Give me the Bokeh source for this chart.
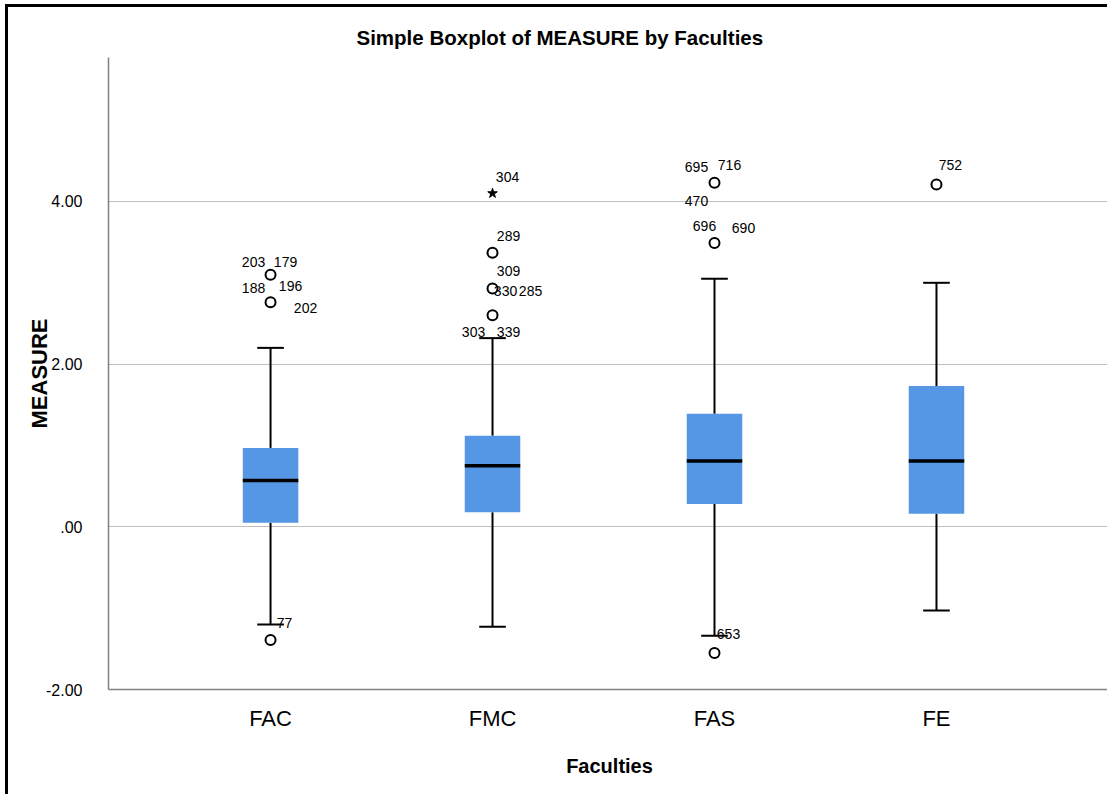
from bokeh.plotting import figure
from bokeh.models import FixedTicker, ColumnDataSource
from bokeh.core.properties import value
from bokeh.embed import file_html
from bokeh.resources import INLINE

# ---------------- data ----------------
categories = ["FAC", "FMC", "FAS", "FE"]
q1 = [0.05, 0.18, 0.28, 0.16]
median = [0.57, 0.75, 0.81, 0.81]
q3 = [0.97, 1.12, 1.39, 1.73]
whisker_low = [-1.20, -1.23, -1.34, -1.03]
whisker_high = [2.20, 2.32, 3.05, 3.00]

# outliers (circle) and extremes (star)
outlier_cat = ["FAC", "FAC", "FAC", "FMC", "FMC", "FMC", "FAS", "FAS", "FAS", "FE"]
outlier_val = [3.10, 2.76, -1.39, 3.37, 2.93, 2.60, 4.23, 3.49, -1.55, 4.21]
extreme_cat = ["FMC"]
extreme_val = [4.10]

# case labels: index of the point they belong to (o = outlier, e = extreme)
label_text = ["203", "179", "188", "196", "202", "77",
              "304", "289", "309", "330", "285", "303", "339",
              "695", "716", "470", "696", "690", "653", "752"]
label_point = [("o", 0), ("o", 0), ("o", 1), ("o", 1), ("o", 1), ("o", 2),
               ("e", 0), ("o", 3), ("o", 4), ("o", 4), ("o", 4), ("o", 5), ("o", 5),
               ("o", 6), ("o", 6), ("o", 6), ("o", 7), ("o", 7), ("o", 8), ("o", 9)]

y_ticks = [-2, 0, 2, 4]
y_tick_labels = ["-2.00", ".00", "2.00", "4.00"]

title_text = "Simple Boxplot of MEASURE by Faculties"
x_title = "Faculties"
y_title = "MEASURE"

# ---------------- style / positions ----------------
label_dx = [-17, 15, -17, 20, 35, 14,
            15, 16, 16, 13, 38, -19, 16,
            -18, 15, -18, -10, 29, 14, 14]
label_dy = [-13, -13, -14, -16, 6, -17,
            -16, -17, -18, 2, 2, 17, 17,
            -16, -18, 18, -17, -15, -19, -19]

FONT = "Liberation Sans"
BOX_COLOR = "#5597e4"

xpos = {c: i + 1 for i, c in enumerate(categories)}
xs = [xpos[c] for c in categories]

p = figure(width=1102, height=790, output_backend="svg", toolbar_location=None,
           x_range=(0.27, 4.784), y_range=(-2.0, 5.77),
           min_border_left=100, min_border_right=0, min_border_top=50, min_border_bottom=108)
p.styles = {"border-left": "3px solid black", "border-top": "3px solid black",
            "margin-left": "5px", "margin-top": "4px"}
p.outline_line_color = None
p.background_fill_color = "white"
p.border_fill_color = "white"

# title
p.title.text = title_text
p.title.text_font = FONT
p.title.text_font_size = "20.5px"
p.title.text_font_style = "bold"
p.title.text_color = "black"
p.title.align = "left"
p.title.offset = 248
p.title.standoff = 17

# axes
p.xgrid.grid_line_color = None
p.ygrid.grid_line_color = "#bfbfbf"
p.ygrid.grid_line_width = 1
p.ygrid.ticker = FixedTicker(ticks=[t for t in y_ticks if t > min(y_ticks)])

p.yaxis.ticker = FixedTicker(ticks=y_ticks)
p.yaxis.major_label_overrides = {t: l for t, l in zip(y_ticks, y_tick_labels)}
p.xaxis.ticker = FixedTicker(ticks=xs)
p.xaxis.major_label_overrides = {xpos[c]: c for c in categories}

for ax in (p.xaxis, p.yaxis):
    ax.axis_line_color = "#808080"
    ax.axis_line_width = 1.5
    ax.major_tick_line_color = None
    ax.minor_tick_line_color = None
    ax.major_label_text_font = FONT
    ax.axis_label_text_font = FONT
    ax.axis_label_text_font_style = "bold"
    ax.axis_label_text_color = "black"
    ax.major_label_text_color = "black"

p.yaxis.major_label_text_font_size = "16px"
p.yaxis.major_label_standoff = 20
p.yaxis.axis_label = y_title
p.yaxis.axis_label_text_font_size = "22px"
p.yaxis.axis_label_standoff = -9

p.xaxis.major_label_text_font_size = "22px"
p.xaxis.major_label_standoff = 10
p.xaxis.axis_label = x_title
p.xaxis.axis_label_text_font_size = "20px"
p.xaxis.axis_label_standoff = 21

# whiskers
p.segment(x0=xs, y0=q3, x1=xs, y1=whisker_high, line_color="black", line_width=2)
p.segment(x0=xs, y0=q1, x1=xs, y1=whisker_low, line_color="black", line_width=2)
cap = 0.06
p.segment(x0=[x - cap for x in xs], y0=whisker_high, x1=[x + cap for x in xs], y1=whisker_high,
          line_color="black", line_width=2)
p.segment(x0=[x - cap for x in xs], y0=whisker_low, x1=[x + cap for x in xs], y1=whisker_low,
          line_color="black", line_width=2)

# boxes
p.vbar(x=xs, width=0.25, bottom=q1, top=q3, fill_color=BOX_COLOR, line_color=None)
p.segment(x0=[x - 0.125 for x in xs], y0=median, x1=[x + 0.125 for x in xs], y1=median,
          line_color="black", line_width=3.5)

# outliers
ox = [xpos[c] for c in outlier_cat]
p.scatter(x=ox, y=outlier_val, marker="circle", size=10, fill_color="white",
          line_color="black", line_width=2)
ex = [xpos[c] for c in extreme_cat]
p.scatter(x=ex, y=extreme_val, marker="star", size=10, fill_color="black",
          line_color="black", line_width=1)

# case labels
lx, ly = [], []
for kind, idx in label_point:
    if kind == "o":
        lx.append(ox[idx]); ly.append(outlier_val[idx])
    else:
        lx.append(ex[idx]); ly.append(extreme_val[idx])
src = ColumnDataSource(dict(x=lx, y=ly, t=label_text, dx=label_dx, dy=label_dy))
p.text(x="x", y="y", text="t", x_offset="dx", y_offset="dy", source=src,
       text_font=value(FONT), text_font_size="14px", text_align="center",
       text_baseline="middle", text_color="black")

open("out.html", "w").write(file_html(p, INLINE))
